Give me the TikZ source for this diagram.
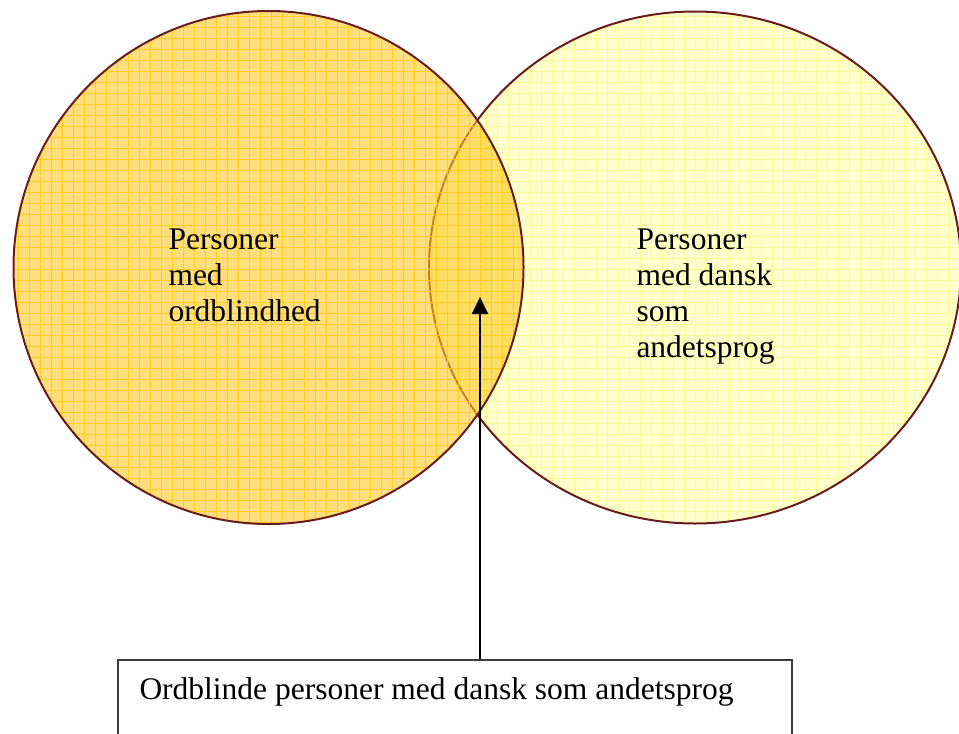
\documentclass[tikz,border=0pt]{standalone}
\usepackage{fontspec}
\setmainfont{Liberation Serif}
\usetikzlibrary{arrows.meta}
\definecolor{outline}{RGB}{105,28,28}
\definecolor{leftfill}{RGB}{255,200,38}
\definecolor{leftgrid}{RGB}{255,202,15}
\definecolor{rightfill}{RGB}{255,255,204}
\definecolor{rightgrid}{RGB}{255,250,150}
\definecolor{boxline}{RGB}{60,60,60}
\begin{document}
\begin{tikzpicture}[x=0.4pt,y=-0.4pt,
  lbl/.style={anchor=base west, inner sep=0pt, font=\fontsize{12.6}{14.4}\selectfont},
  ring/.style={draw=outline, line width=0.8pt},
  gridline/.style={line width=0.4pt}]
\clip (0,0) rectangle (959,733);
% right set
\fill[rightfill] (695,267.5) ellipse [x radius=266, y radius=256];
\begin{scope}
  \clip (695,267.5) ellipse [x radius=266, y radius=256];
  \foreach \gx in {420,431,...,970} \draw[rightgrid, gridline] (\gx,0) -- (\gx,540);
  \foreach \gy in {5,16,...,540} \draw[rightgrid, gridline] (420,\gy) -- (970,\gy);
\end{scope}
\draw[ring] (695,267.5) ellipse [x radius=266, y radius=256];
% left set
\fill[leftfill, fill opacity=0.6] (268.5,267.5) ellipse [x radius=255, y radius=256.5];
\begin{scope}
  \clip (268.5,267.5) ellipse [x radius=255, y radius=256.5];
  \foreach \gx in {7,18,...,530} \draw[leftgrid, gridline, draw opacity=0.85] (\gx,0) -- (\gx,540);
  \foreach \gy in {5,16,...,540} \draw[leftgrid, gridline, draw opacity=0.85] (0,\gy) -- (530,\gy);
\end{scope}
\draw[ring] (268.5,267.5) ellipse [x radius=255, y radius=256.5];
% labels
\node[lbl] (l1) at (168,249) {Personer};
\node[lbl] (l2) at (168,285) {med};
\node[lbl] (l3) at (168,321) {ordblindhed};
\node[lbl] (r1) at (636,249) {Personer};
\node[lbl] (r2) at (636,285) {med dansk};
\node[lbl] (r3) at (636,321) {som};
\node[lbl] (r4) at (636,357) {andetsprog};
% box
\node[draw=boxline, line width=0.7pt, anchor=north west, inner sep=0pt,
      minimum width=269.6pt, minimum height=60pt] (box) at (117,659) {};
\node[lbl] (boxtext) at (139,699) {Ordblinde personer med dansk som andetsprog};
\coordinate (tip) at (480,297);
\draw[line width=0.85pt, -{Triangle[length=6.8pt, width=6.4pt]}] (box.north -| tip) -- (tip);
\end{tikzpicture}
\end{document}
